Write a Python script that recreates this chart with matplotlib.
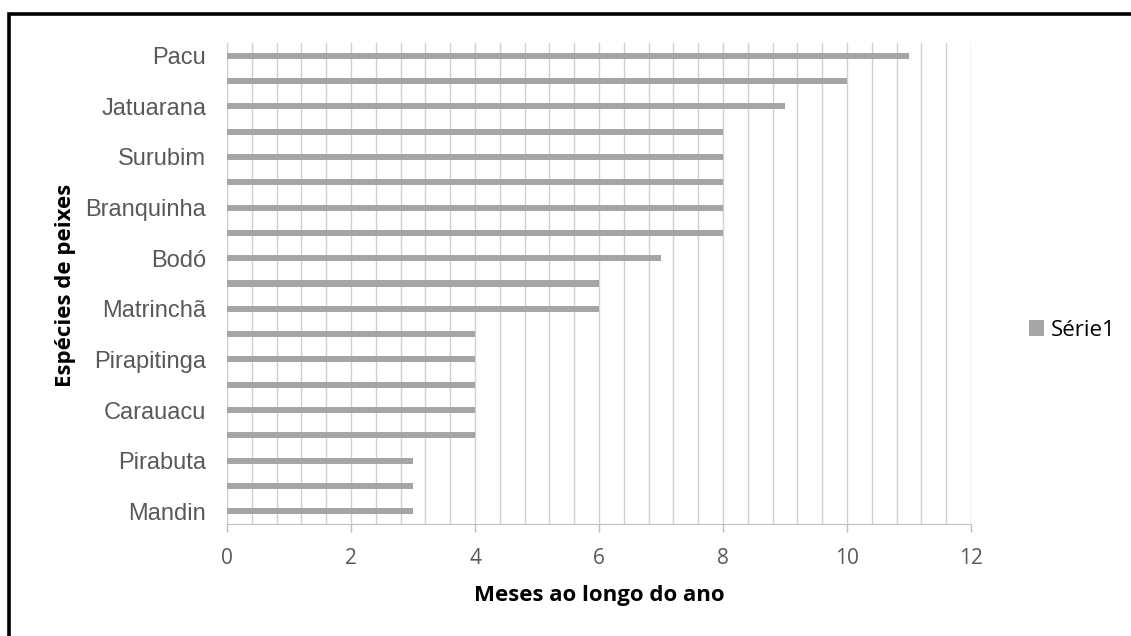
import numpy as np
import matplotlib.pyplot as plt
from matplotlib.patches import Rectangle
from matplotlib.ticker import MultipleLocator

# ---------------------------------
# DATA (top to bottom)
# ---------------------------------

especies = ["Pacu", "", "Jatuarana", "", "Surubim", "", "Branquinha", "",
            "Bodó", "", "Matrinchã", "", "Pirapitinga", "", "Carauacu", "",
            "Pirabuta", "", "Mandin"]
meses = [11, 10, 9, 8, 8, 8, 8, 8, 7, 6, 6, 4, 4, 4, 4, 4, 3, 3, 3]
xticks = [0, 2, 4, 6, 8, 10, 12]

# ---------------------------------
# FIGURE
# ---------------------------------

fig = plt.figure(figsize=(11.31, 6.36), dpi=100)
ax = fig.add_axes([227/1131, 112/636, 744/1131, 481/636])

pos = np.arange(len(meses))
ax.barh(pos, meses, height=0.24, color="#A5A5A5", zorder=3, label="Série1")

ax.set_ylim(len(meses) - 0.5, -0.5)
ax.set_xlim(0, 12)
ax.set_yticks(pos)
ax.set_yticklabels(especies, family="Liberation Sans", fontsize=17, color="#595959")
ax.tick_params(axis="y", length=0, pad=15)

ax.set_xticks(xticks)
ax.set_xticklabels([str(t) for t in xticks], family="Open Sans", fontsize=15, color="#595959")
ax.xaxis.set_minor_locator(MultipleLocator(0.4))
ax.tick_params(axis="x", which="major", length=6, color="#BFBFBF", width=1, pad=11, direction="out")
ax.tick_params(axis="x", which="minor", length=0)
ax.grid(axis="x", which="both", color="#D0D0D0", linewidth=1, zorder=0)

for s in ["top", "right"]:
    ax.spines[s].set_visible(False)
ax.spines["left"].set_color("#D0D0D0")
ax.spines["bottom"].set_color("#BFBFBF")

ax.set_xlabel("Meses ao longo do ano", family="Open Sans", fontweight="bold",
              fontsize=16, labelpad=12)
fig.text(65/1131, 1 - 285/636, "Espécies de peixes", rotation=90, ha="center", va="center",
         family="Open Sans", fontweight="bold", fontsize=16)

leg = fig.legend(loc="center left", bbox_to_anchor=(1020/1131, 1 - 330/636), frameon=False,
                 prop={"family": "Open Sans", "size": 16}, handlelength=0.7, handleheight=0.7,
                 handletextpad=0.3, borderaxespad=0)

# black frame (left and top edges visible)
fig.patches.append(Rectangle((9/1131, -0.1), 1.2, 1 - 13.5/636 + 0.1, transform=fig.transFigure,
                             fill=False, edgecolor="black", linewidth=2.6, zorder=10))

fig.savefig("out.png", dpi=100)
